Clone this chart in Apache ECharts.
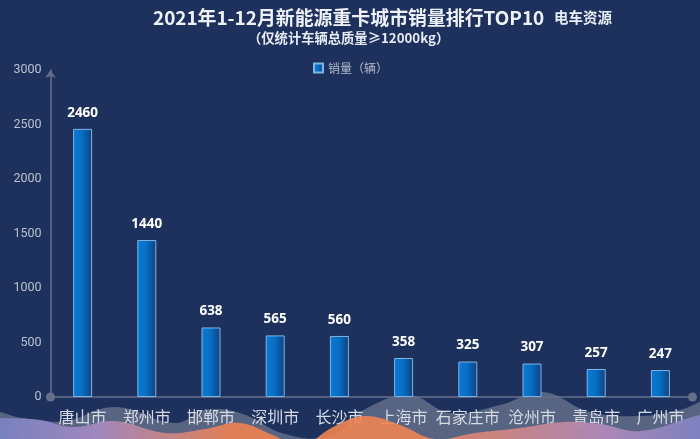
<!DOCTYPE html>
<html>
<head>
<meta charset="utf-8">
<script src="https://cdn.jsdelivr.net/npm/echarts@6/dist/echarts.min.js"></script>
<style>
html, body { margin: 0; padding: 0; background: #1e315c; }
#main { width: 700px; height: 439px; }
</style>
</head>
<body>
<div id="main"></div>
<script>
const cities = ['唐山市', '郑州市', '邯郸市', '深圳市', '长沙市', '上海市', '石家庄市', '沧州市', '青岛市', '广州市']
const sales = [2460, 1440, 638, 565, 560, 358, 325, 307, 257, 247]
const yTicks = [0, 3000, 500]

const cjk = '"Noto Sans CJK SC", "Noto Sans", sans-serif'

const myChart = echarts.init(document.getElementById('main'))

const barColor = new echarts.graphic.LinearGradient(0, 0, 1, 0, [
    { offset: 0, color: '#0a7ad6' },
    { offset: 0.45, color: '#0670c4' },
    { offset: 1, color: '#123f80' },
])

const waveColor = new echarts.graphic.LinearGradient(0, 0, 1, 0, [
    { offset: 0, color: '#5a7fc8' },
    { offset: 0.2, color: '#a98bc4' },
    { offset: 0.36, color: '#ef8250' },
    { offset: 0.58, color: '#ee8454' },
    { offset: 0.8, color: '#b58bbc' },
    { offset: 1, color: '#5a7fd0' },
])

const option = {
    backgroundColor: '#1e315c',
    title: [
        {
            text: '2021年1-12月新能源重卡城市销量排行TOP10',
            left: 148,
            top: 3,
            textStyle: { color: '#eef2f8', fontSize: 18.9, fontWeight: 'bold', fontFamily: cjk },
        },
        {
            text: '（仅统计车辆总质量≥12000kg）',
            left: 243,
            top: 26,
            textStyle: { color: '#e6ebf4', fontSize: 13.3, fontWeight: 'bold', fontFamily: cjk },
        },
        {
            text: '电车资源',
            left: 549,
            top: 5,
            textStyle: { color: '#e8eef8', fontSize: 14.5, fontWeight: 'bold', fontFamily: cjk },
        },
    ],
    legend: {
        top: 57,
        left: 308,
        itemWidth: 9,
        itemHeight: 9,
        itemGap: 3,
        icon: 'rect',
        textStyle: { color: '#b4bccc', fontSize: 12, fontFamily: cjk },
        data: ['销量（辆）'],
    },
    grid: { left: 50.5, right: 7.5, top: 70, bottom: 42 },
    xAxis: {
        type: 'category',
        data: cities,
        axisLine: {
            show: true,
            symbol: ['circle', 'circle'],
            symbolSize: [9, 9],
            lineStyle: { color: '#666f8a', width: 1.5 },
        },
        axisTick: { show: false },
        axisLabel: { color: '#d6dae4', fontSize: 16, margin: 12, interval: 0, fontFamily: cjk },
    },
    yAxis: {
        type: 'value',
        min: yTicks[0],
        max: yTicks[1],
        interval: yTicks[2],
        axisLine: {
            show: true,
            symbol: ['circle', 'arrow'],
            symbolSize: [8, 8],
            lineStyle: { color: '#666f8a', width: 1.5 },
        },
        axisTick: { show: false },
        splitLine: { show: false },
        axisLabel: {
            color: '#b9c0d0',
            fontSize: 12.5,
            margin: 9,
            fontFamily: 'Roboto, sans-serif',
            formatter: value => String(value),
        },
    },
    series: [
        {
            name: '销量（辆）',
            type: 'bar',
            data: sales,
            barWidth: 19,
            itemStyle: { color: barColor, borderColor: '#7db6e6', borderWidth: 1 },
            label: {
                show: true,
                position: 'top',
                distance: 9,
                color: '#ffffff',
                fontSize: 13.5,
                fontWeight: 'bold',
                fontFamily: '"Open Sans", sans-serif',
            },
        },
    ],
    graphic: [
        {
            type: 'polygon',
            silent: true,
            z: 0,
            shape: {
                smooth: 0.4,
                points: [[-30, 405], [0, 412], [22, 418], [65, 421], [115, 407], [175, 423], [205, 410], [240, 413], [285, 434], [330, 436], [367, 408], [410, 395], [450, 413], [500, 405], [543, 392], [590, 412], [640, 416], [680, 410], [730, 396], [760, 520], [-60, 520]],
            },
            style: { fill: 'rgba(125,135,155,0.6)' },
        },
        {
            type: 'polygon',
            silent: true,
            z: 1,
            shape: {
                smooth: 0.4,
                points: [[-30, 418], [0, 418], [40, 420], [72, 427], [115, 421], [165, 433], [205, 429], [240, 423], [275, 436], [300, 446], [335, 426], [365, 416], [400, 425], [435, 439], [475, 433], [520, 428], [563, 422], [600, 424], [640, 431], [700, 415], [730, 410], [760, 520], [-60, 520]],
            },
            style: { fill: waveColor, opacity: 0.9 },
        },
    ],
}

myChart.setOption(option)
</script>
</body>
</html>
